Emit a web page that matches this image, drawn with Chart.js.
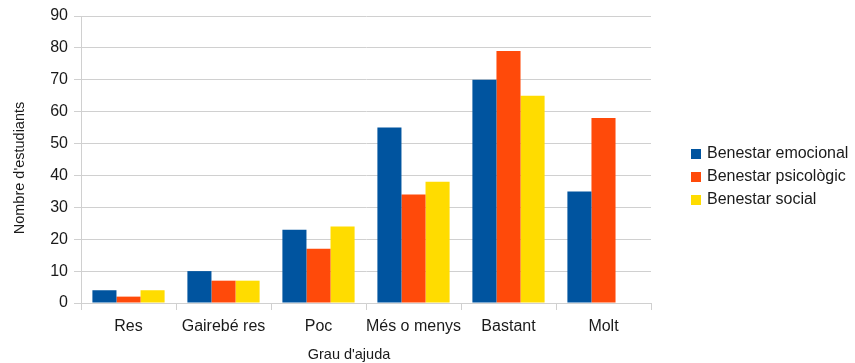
<!DOCTYPE html>
<html>
<head>
<meta charset="utf-8">
<script src="https://cdn.jsdelivr.net/npm/chart.js@4"></script>
<style>
  html, body { margin: 0; padding: 0; background: #fff; }
  #wrap { width: 855px; height: 363px; position: relative; }
</style>
</head>
<body>
<div id="wrap"><canvas id="c" width="855" height="363"></canvas></div>
<script>
// Categories and values per series
const categories = ['Res', 'Gairebé res', 'Poc', 'Més o menys', 'Bastant', 'Molt'];
const seriesNames = ['Benestar emocional', 'Benestar psicològic', 'Benestar social'];
const emocional = [4, 10, 23, 55, 70, 35];
const psicologic = [2, 7, 17, 34, 79, 58];
const social = [4, 7, 24, 38, 65, 0];
const yTicks = [0, 10, 20, 30, 40, 50, 60, 70, 80, 90];

const colors = ['#00549f', '#ff4a0a', '#ffdc00'];
const gridColor = '#d0d0d0';
const textColor = '#1a1a1a';
const FONT = '"Liberation Sans", Arial, sans-serif';

// Axis titles and right-hand legend
const extras = {
  id: 'extras',
  afterDraw(chart) {
    const ctx = chart.ctx;
    ctx.save();
    ctx.fillStyle = textColor;
    ctx.font = '14.5px ' + FONT;
    ctx.textAlign = 'center';
    ctx.textBaseline = 'middle';
    ctx.fillText("Grau d'ajuda", 349, 355);
    ctx.translate(20, 168);
    ctx.rotate(-Math.PI / 2);
    ctx.fillText("Nombre d'estudiants", 0, 0);
    ctx.restore();

    ctx.save();
    ctx.font = '16px ' + FONT;
    ctx.textAlign = 'left';
    ctx.textBaseline = 'middle';
    chart.data.datasets.forEach((ds, i) => {
      const cy = 154 + i * 23;
      ctx.fillStyle = ds.backgroundColor;
      ctx.fillRect(691, cy - 5, 10, 10);
      ctx.fillStyle = textColor;
      ctx.fillText(ds.label, 707, cy);
    });
    ctx.restore();
  }
};

new Chart(document.getElementById('c'), {
  type: 'bar',
  data: {
    labels: categories,
    datasets: [
      { label: seriesNames[0], data: emocional, backgroundColor: colors[0] },
      { label: seriesNames[1], data: psicologic, backgroundColor: colors[1] },
      { label: seriesNames[2], data: social, backgroundColor: colors[2] }
    ]
  },
  options: {
    responsive: false,
    animation: false,
    devicePixelRatio: 1,
    layout: { padding: { top: 16, right: 204, bottom: 0, left: 0 } },
    datasets: { bar: { categoryPercentage: 0.76, barPercentage: 1.0, borderWidth: 0 } },
    plugins: { legend: { display: false }, tooltip: { enabled: false } },
    scales: {
      x: {
        grid: {
          offset: true,
          color: (c) => (c.index === 0 || c.index === categories.length) ? gridColor : 'rgba(0,0,0,0)',
          tickColor: gridColor,
          tickLength: 7,
          drawOnChartArea: true
        },
        border: { color: gridColor },
        ticks: { color: textColor, font: { family: FONT, size: 16 }, padding: 7, maxRotation: 0, autoSkip: false },
        afterFit(scale) { scale.height = 60; }
      },
      y: {
        min: 0,
        max: 90,
        afterBuildTicks(scale) { scale.ticks = yTicks.map(v => ({ value: v })); },
        grid: { color: gridColor, tickColor: gridColor, tickLength: 7 },
        border: { color: gridColor },
        ticks: { color: textColor, font: { family: FONT, size: 16 }, padding: 6 },
        afterFit(scale) { scale.width = 81; }
      }
    }
  },
  plugins: [extras]
});
</script>
</body>
</html>
